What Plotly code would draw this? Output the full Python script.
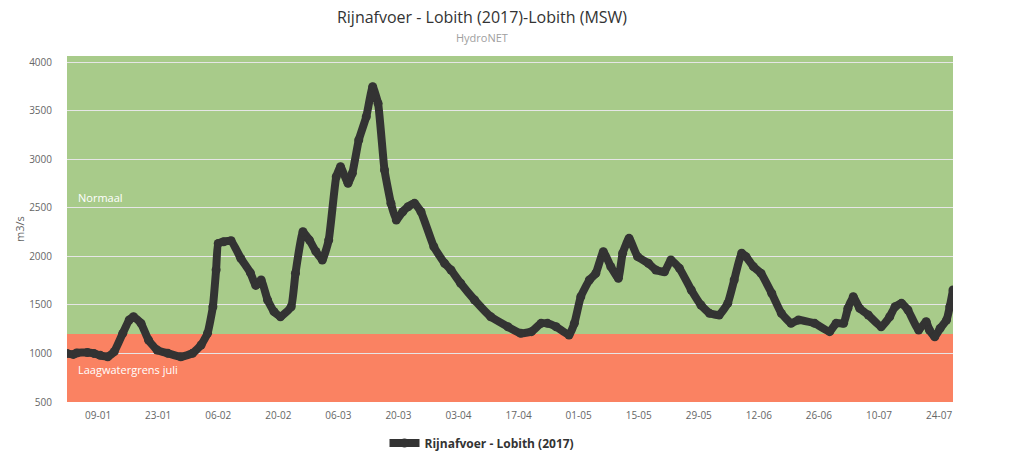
import plotly.graph_objects as go

# ---- data ----
dates = [
    "2017-01-01 18:00", "2017-01-03 06:00", "2017-01-04 00:00", "2017-01-06 12:00", "2017-01-08 00:00",
    "2017-01-09 12:00", "2017-01-11 06:00", "2017-01-12 18:00", "2017-01-14 18:00", "2017-01-16 06:00",
    "2017-01-17 06:00", "2017-01-19 00:00", "2017-01-20 18:00", "2017-01-22 18:00", "2017-01-25 06:00",
    "2017-01-28 06:00", "2017-01-31 00:00", "2017-02-02 00:00", "2017-02-03 12:00", "2017-02-04 18:00",
    "2017-02-05 12:00", "2017-02-06 00:00", "2017-02-07 06:00", "2017-02-09 00:00", "2017-02-11 06:00",
    "2017-02-13 12:00", "2017-02-14 18:00", "2017-02-16 00:00", "2017-02-17 12:00", "2017-02-19 00:00",
    "2017-02-20 12:00", "2017-02-23 00:00", "2017-02-24 00:00", "2017-02-25 18:00", "2017-02-27 06:00",
    "2017-02-28 18:00", "2017-03-02 06:00", "2017-03-03 18:00", "2017-03-05 12:00", "2017-03-06 12:00",
    "2017-03-08 06:00", "2017-03-09 06:00", "2017-03-10 18:00", "2017-03-12 12:00", "2017-03-14 00:00",
    "2017-03-15 06:00", "2017-03-16 18:00", "2017-03-18 06:00", "2017-03-19 12:00", "2017-03-21 00:00",
    "2017-03-22 06:00", "2017-03-23 18:00", "2017-03-25 06:00", "2017-03-28 06:00", "2017-03-30 18:00",
    "2017-04-01 06:00", "2017-04-03 12:00", "2017-04-06 18:00", "2017-04-10 12:00", "2017-04-14 12:00",
    "2017-04-17 12:00", "2017-04-20 00:00", "2017-04-22 06:00", "2017-04-23 18:00", "2017-04-25 18:00",
    "2017-04-28 18:00", "2017-04-30 00:00", "2017-05-01 12:00", "2017-05-03 12:00", "2017-05-05 00:00",
    "2017-05-06 18:00", "2017-05-08 12:00", "2017-05-10 06:00", "2017-05-11 06:00", "2017-05-12 18:00",
    "2017-05-14 18:00", "2017-05-17 06:00", "2017-05-19 00:00", "2017-05-21 00:00", "2017-05-22 12:00",
    "2017-05-24 12:00", "2017-05-27 06:00", "2017-05-29 12:00", "2017-05-31 12:00", "2017-06-02 18:00",
    "2017-06-04 18:00", "2017-06-06 06:00", "2017-06-08 00:00", "2017-06-09 00:00", "2017-06-10 18:00",
    "2017-06-12 12:00", "2017-06-15 00:00", "2017-06-17 06:00", "2017-06-19 12:00", "2017-06-21 06:00",
    "2017-06-25 00:00", "2017-06-28 12:00", "2017-06-30 00:00", "2017-07-01 18:00", "2017-07-02 18:00",
    "2017-07-04 00:00", "2017-07-05 12:00", "2017-07-07 12:00", "2017-07-10 12:00", "2017-07-12 12:00",
    "2017-07-13 18:00", "2017-07-15 06:00", "2017-07-16 18:00", "2017-07-19 06:00", "2017-07-21 00:00",
    "2017-07-21 18:00", "2017-07-23 00:00", "2017-07-24 06:00", "2017-07-25 18:00", "2017-07-26 12:00",
    "2017-07-27 06:00",
]
discharge = [
    1000, 990, 1005, 1010, 1000,
    980, 966, 1018, 1207, 1344,
    1378, 1310, 1138, 1035, 1001,
    966, 1001, 1087, 1207, 1481,
    1859, 2133, 2150, 2160, 1979,
    1830, 1700, 1756, 1550, 1430,
    1378, 1481, 1825, 2253, 2167,
    2050, 1962, 2167, 2819, 2922,
    2751, 2854, 3197, 3437, 3746,
    3575, 2888, 2545, 2373, 2459,
    2510, 2545, 2459, 2099, 1928,
    1859, 1722, 1550, 1378, 1275,
    1207, 1224, 1310, 1310, 1275,
    1190, 1310, 1584, 1756, 1825,
    2047, 1893, 1773, 2031, 2185,
    1996, 1928, 1859, 1841, 1962,
    1876, 1653, 1499, 1413, 1396,
    1516, 1756, 2031, 1996, 1893,
    1825, 1619, 1413, 1310, 1344,
    1310, 1224, 1310, 1310, 1464,
    1584, 1464, 1396, 1275, 1378,
    1481, 1516, 1447, 1241, 1327,
    1241, 1172, 1258, 1344, 1481,
    1653,
]

series_name = "Rijnafvoer - Lobith (2017)"
title_text = "Rijnafvoer - Lobith (2017)-Lobith (MSW)"
subtitle_text = "HydroNET"
y_title = "m3/s"

x_tick_vals = ["2017-01-09", "2017-01-23", "2017-02-06", "2017-02-20", "2017-03-06", "2017-03-20",
               "2017-04-03", "2017-04-17", "2017-05-01", "2017-05-15", "2017-05-29", "2017-06-12",
               "2017-06-26", "2017-07-10", "2017-07-24"]
x_tick_text = ["09-01", "23-01", "06-02", "20-02", "06-03", "20-03", "03-04", "17-04",
               "01-05", "15-05", "29-05", "12-06", "26-06", "10-07", "24-07"]
y_tick_vals = [500, 1000, 1500, 2000, 2500, 3000, 3500, 4000]

band_low = (500, 1200)      # Laagwatergrens juli
band_normal = (1200, 4100)  # Normaal
band_labels = ["Laagwatergrens juli", "Normaal"]
band_label_y = [830, 2610]

FONT = "Open Sans"

fig = go.Figure()
fig.add_trace(go.Scatter(
    x=dates, y=discharge, name=series_name,
    mode="lines+markers",
    line=dict(color="#333333", width=8, shape="spline", smoothing=0.4),
    marker=dict(color="#333333", size=9),
))

fig.add_shape(type="rect", xref="paper", yref="y", x0=0, x1=1,
              y0=band_normal[0], y1=band_normal[1],
              fillcolor="#a8cb8a", line_width=0, layer="below")
fig.add_shape(type="rect", xref="paper", yref="y", x0=0, x1=1,
              y0=band_low[0], y1=band_low[1],
              fillcolor="#fa8262", line_width=0, layer="below")

for lbl, ly in zip(band_labels, band_label_y):
    fig.add_annotation(text=lbl, xref="paper", yref="y", x=0.01, y=ly,
                       xanchor="left", yanchor="middle", showarrow=False,
                       font=dict(family=FONT, size=11, color="white"))

fig.add_annotation(text=subtitle_text, xref="paper", yref="paper",
                   x=(482 - 67) / 886, y=1 + (56 - 38) / 346,
                   xanchor="center", yanchor="middle", showarrow=False,
                   font=dict(family=FONT, size=11, color="#a0a0a0"))

fig.update_layout(
    width=1023, height=469,
    margin=dict(l=67, r=70, t=56, b=67, autoexpand=False),
    paper_bgcolor="white", plot_bgcolor="white",
    title=dict(text=title_text, x=482 / 1023, xref="container", xanchor="center",
               y=1 - 17 / 469, yref="container", yanchor="middle",
               font=dict(family=FONT, size=16, color="#333333")),
    showlegend=True,
    legend=dict(orientation="h", x=(482 - 67) / 886, xanchor="center",
                y=-(443 - 402) / 346, yanchor="middle", itemwidth=30,
                font=dict(family=FONT, size=12, color="#333333", weight="bold")),
    xaxis=dict(type="date", range=[dates[0], dates[-1]], automargin=False,
               tickvals=x_tick_vals, ticktext=x_tick_text,
               showgrid=False, zeroline=False, showline=False,
               ticks="", ticklabelstandoff=6,
               tickfont=dict(family=FONT, size=10, color="#666666")),
    yaxis=dict(range=[500, 4062], tickvals=y_tick_vals, automargin=False,
               showgrid=True, gridcolor="#e6e6e6", gridwidth=1,
               zeroline=False, showline=False, ticks="", ticklabelstandoff=14,
               tickfont=dict(family=FONT, size=10, color="#666666"),
               title=dict(text=y_title, standoff=2,
                          font=dict(family=FONT, size=11, color="#666666"))),
)

fig.write_html("out.html")
